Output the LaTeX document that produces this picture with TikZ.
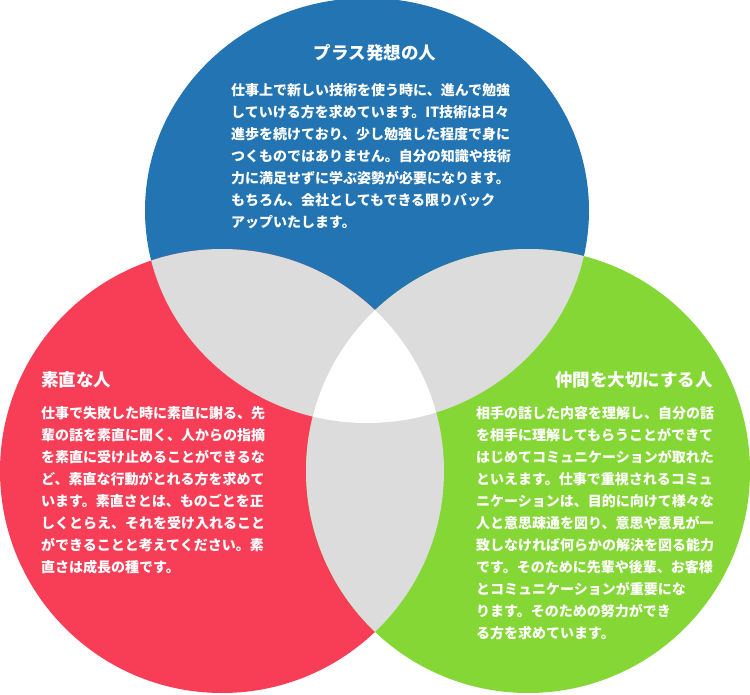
\documentclass[tikz,border=0pt]{standalone}
\usepackage{fontspec}
\newfontfamily\jpfont{Noto Sans CJK JP}
\definecolor{plusblue}{RGB}{35,116,178}
\definecolor{honestred}{RGB}{248,61,86}
\definecolor{teamgreen}{RGB}{133,215,53}
\definecolor{overlapgray}{RGB}{220,220,220}
\begin{document}
\begin{tikzpicture}[x=1pt, y=-1pt, text=white,
	title/.style={font=\jpfont\bfseries\fontsize{17.5}{22}\selectfont, inner sep=0},
	body/.style={font=\jpfont\bfseries\fontsize{14}{22}\selectfont, align=left, inner sep=0, anchor=base west}]
	\def\rr{222}	\def\bx{222}	\def\by{212.5}
	\useasboundingbox (0,0) rectangle (750,694);
	\coordinate (blue) at (367,210.5);
	\coordinate (red) at (222,471);
	\coordinate (green) at (528,471);
	% three circles
	\fill[plusblue] (blue) ellipse [x radius=\bx, y radius=\by];
	\fill[honestred] (red) circle [radius=\rr];
	\fill[teamgreen] (green) circle [radius=\rr];
	% overlaps
	\begin{scope}
		\clip (blue) ellipse [x radius=\bx, y radius=\by];
		\fill[overlapgray] (red) circle [radius=\rr];
		\fill[overlapgray] (green) circle [radius=\rr];
	\end{scope}
	\begin{scope}
		\clip (red) circle [radius=\rr];
		\fill[overlapgray] (green) circle [radius=\rr];
		\clip (green) circle [radius=\rr];
		\fill[white] (blue) ellipse [x radius=\bx, y radius=\by];
	\end{scope}
	% texts (base anchor = last line)
	\node[title, anchor=base] (plustitle) at (375,59.7) {プラス発想の人};
	\node[body] (plusbody) at (231,227.3) {仕事上で新しい技術を使う時に、進んで勉強\\していける方を求めています。IT技術は日々\\進歩を続けており、少し勉強した程度で身に\\つくものではありません。自分の知識や技術\\力に満足せずに学ぶ姿勢が必要になります。\\もちろん、会社としてもできる限りバック\\アップいたします。};
	\node[title, anchor=base west] (honesttitle) at (41,386.6) {素直な人};
	\node[body] (honestbody) at (41,572.3) {仕事で失敗した時に素直に謝る、先\\輩の話を素直に聞く、人からの指摘\\を素直に受け止めることができるな\\ど、素直な行動がとれる方を求めて\\います。素直さとは、ものごとを正\\しくとらえ、それを受け入れること\\ができることと考えてください。素\\直さは成長の種です。};
	\node[title, anchor=base east] (teamtitle) at (713,386.6) {仲間を大切にする人};
	\node[body] (teambody) at (476,638.3) {相手の話した内容を理解し、自分の話\\を相手に理解してもらうことができて\\はじめてコミュニケーションが取れた\\といえます。仕事で重視されるコミュ\\ニケーションは、目的に向けて様々な\\人と意思疎通を図り、意思や意見が一\\致しなければ何らかの解決を図る能力\\です。そのために先輩や後輩、お客様\\とコミュニケーションが重要にな\\ります。そのための努力ができ\\る方を求めています。};
\end{tikzpicture}
\end{document}
